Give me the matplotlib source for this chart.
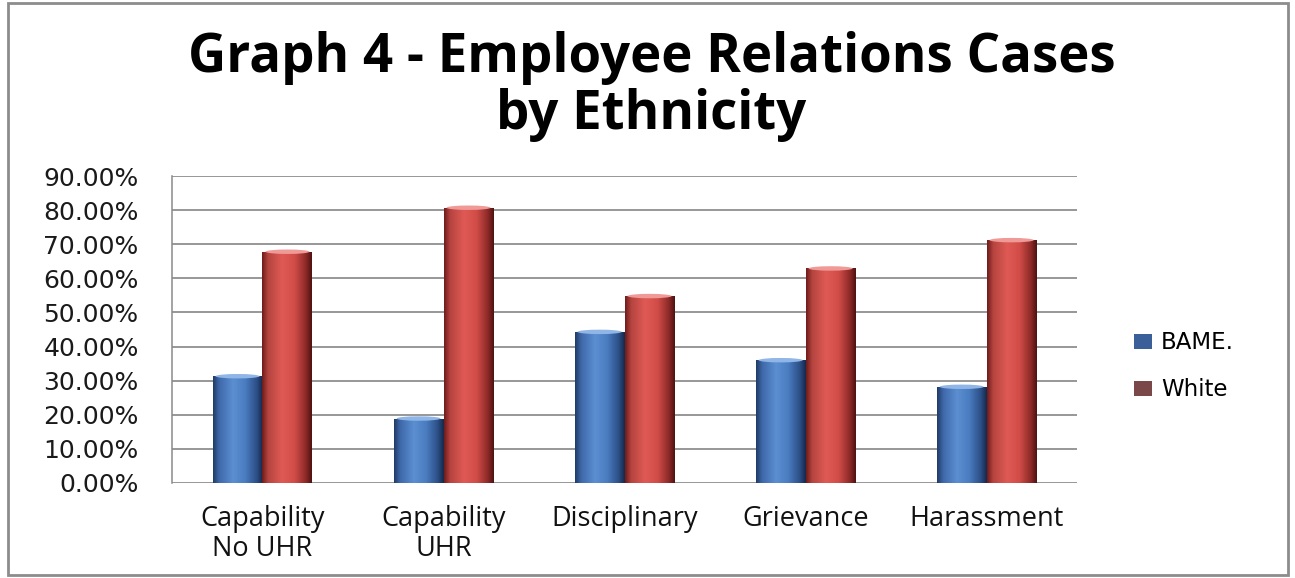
import numpy as np
import matplotlib
matplotlib.use('Agg')
import matplotlib.pyplot as plt
from matplotlib.colors import LinearSegmentedColormap
from matplotlib.patches import Ellipse, Patch, Rectangle

# employee relations cases, % share by ethnicity
categories = ['Capability\nNo UHR', 'Capability\nUHR', 'Disciplinary', 'Grievance', 'Harassment']
bame = [31.3, 18.9, 44.3, 36.0, 28.2]
white = [67.8, 80.7, 54.8, 62.9, 71.2]
series_names = ['BAME.', 'White']
yticks = [0, 10, 20, 30, 40, 50, 60, 70, 80, 90]

# shading across a bar to make it look like a cylinder
blue_shade = LinearSegmentedColormap.from_list('blue_cyl', [
    (0.00, '#1f3a66'), (0.12, '#3f68a8'), (0.40, '#5b8fd2'),
    (0.65, '#4a7cc0'), (0.88, '#2c4f86'), (1.00, '#16294a')])
red_shade = LinearSegmentedColormap.from_list('red_cyl', [
    (0.00, '#6e1c1c'), (0.12, '#b5443f'), (0.40, '#e05a55'),
    (0.65, '#d24d48'), (0.88, '#8e2a28'), (1.00, '#4e1212')])
blue_top = '#8fb6e6'
red_top = '#f09a98'

fig = plt.figure(figsize=(12.95, 5.78), dpi=100)
ax = fig.add_axes([0.1328, 0.1644, 0.699, 0.5311])

x = np.arange(len(categories))
w = 0.276
grad = np.linspace(0, 1, 128).reshape(1, -1)


def cylinders(xpos, values, cmap, top_color, color):
    bars = ax.bar(xpos, values, w, color=color, zorder=2, linewidth=0)
    for b in bars:
        x0, h = b.get_x(), b.get_height()
        im = ax.imshow(grad, cmap=cmap, extent=(x0, x0 + w, 0, h),
                       aspect='auto', interpolation='bicubic', zorder=3)
        im.set_clip_path(b)
        ax.add_patch(Ellipse((x0 + w / 2, h), w * 0.88, 1.3,
                             facecolor=top_color, edgecolor='none', zorder=4))
    return bars


cylinders(x - w / 2, bame, blue_shade, blue_top, '#4a7cc0')
cylinders(x + w / 2, white, red_shade, red_top, '#d24d48')

ax.set_xlim(-0.5, len(categories) - 0.5)
ax.set_ylim(0, 90)
ax.set_yticks(yticks)
ax.set_yticklabels(['%.2f%%' % v for v in yticks])
ax.set_xticks(x)
ax.set_xticklabels(categories, family='Open Sans', fontsize=19.5, linespacing=1.1)
ax.tick_params(axis='y', length=0, pad=24, labelsize=18, colors='#1a1a1a')
ax.tick_params(axis='x', length=0, pad=16, colors='#111111')

ax.grid(axis='y', color='#7a7a7a', linewidth=1.1)
ax.set_axisbelow(True)
for side in ['top', 'right', 'bottom']:
    ax.spines[side].set_visible(False)
ax.spines['left'].set_color('#8a8a8a')
ax.spines['left'].set_linewidth(1.1)

handles = [Patch(facecolor='#3b5f99', edgecolor='none'),
           Patch(facecolor='#7a4848', edgecolor='none')]
fig.legend(handles, series_names, loc='center left',
           bbox_to_anchor=(0.876, 0.366), bbox_transform=fig.transFigure,
           frameon=False, fontsize=16.5, handlelength=0.75, handleheight=0.6,
           handletextpad=0.4, labelspacing=1.05, borderpad=0, borderaxespad=0)

fig.text(0.503, 1 - 72 / 578, 'Graph 4 - Employee Relations Cases',
         family='Open Sans', weight='bold', fontsize=38, ha='center', va='baseline')
fig.text(0.503, 1 - 129 / 578, 'by Ethnicity',
         family='Open Sans', weight='bold', fontsize=38, ha='center', va='baseline')

fig.patches.append(Rectangle((8 / 1295, 3 / 578), 1280 / 1295, 572 / 578,
                             transform=fig.transFigure, fill=False,
                             edgecolor='#8c8c8c', linewidth=2))

fig.savefig('out.png', dpi=100, facecolor='white')
